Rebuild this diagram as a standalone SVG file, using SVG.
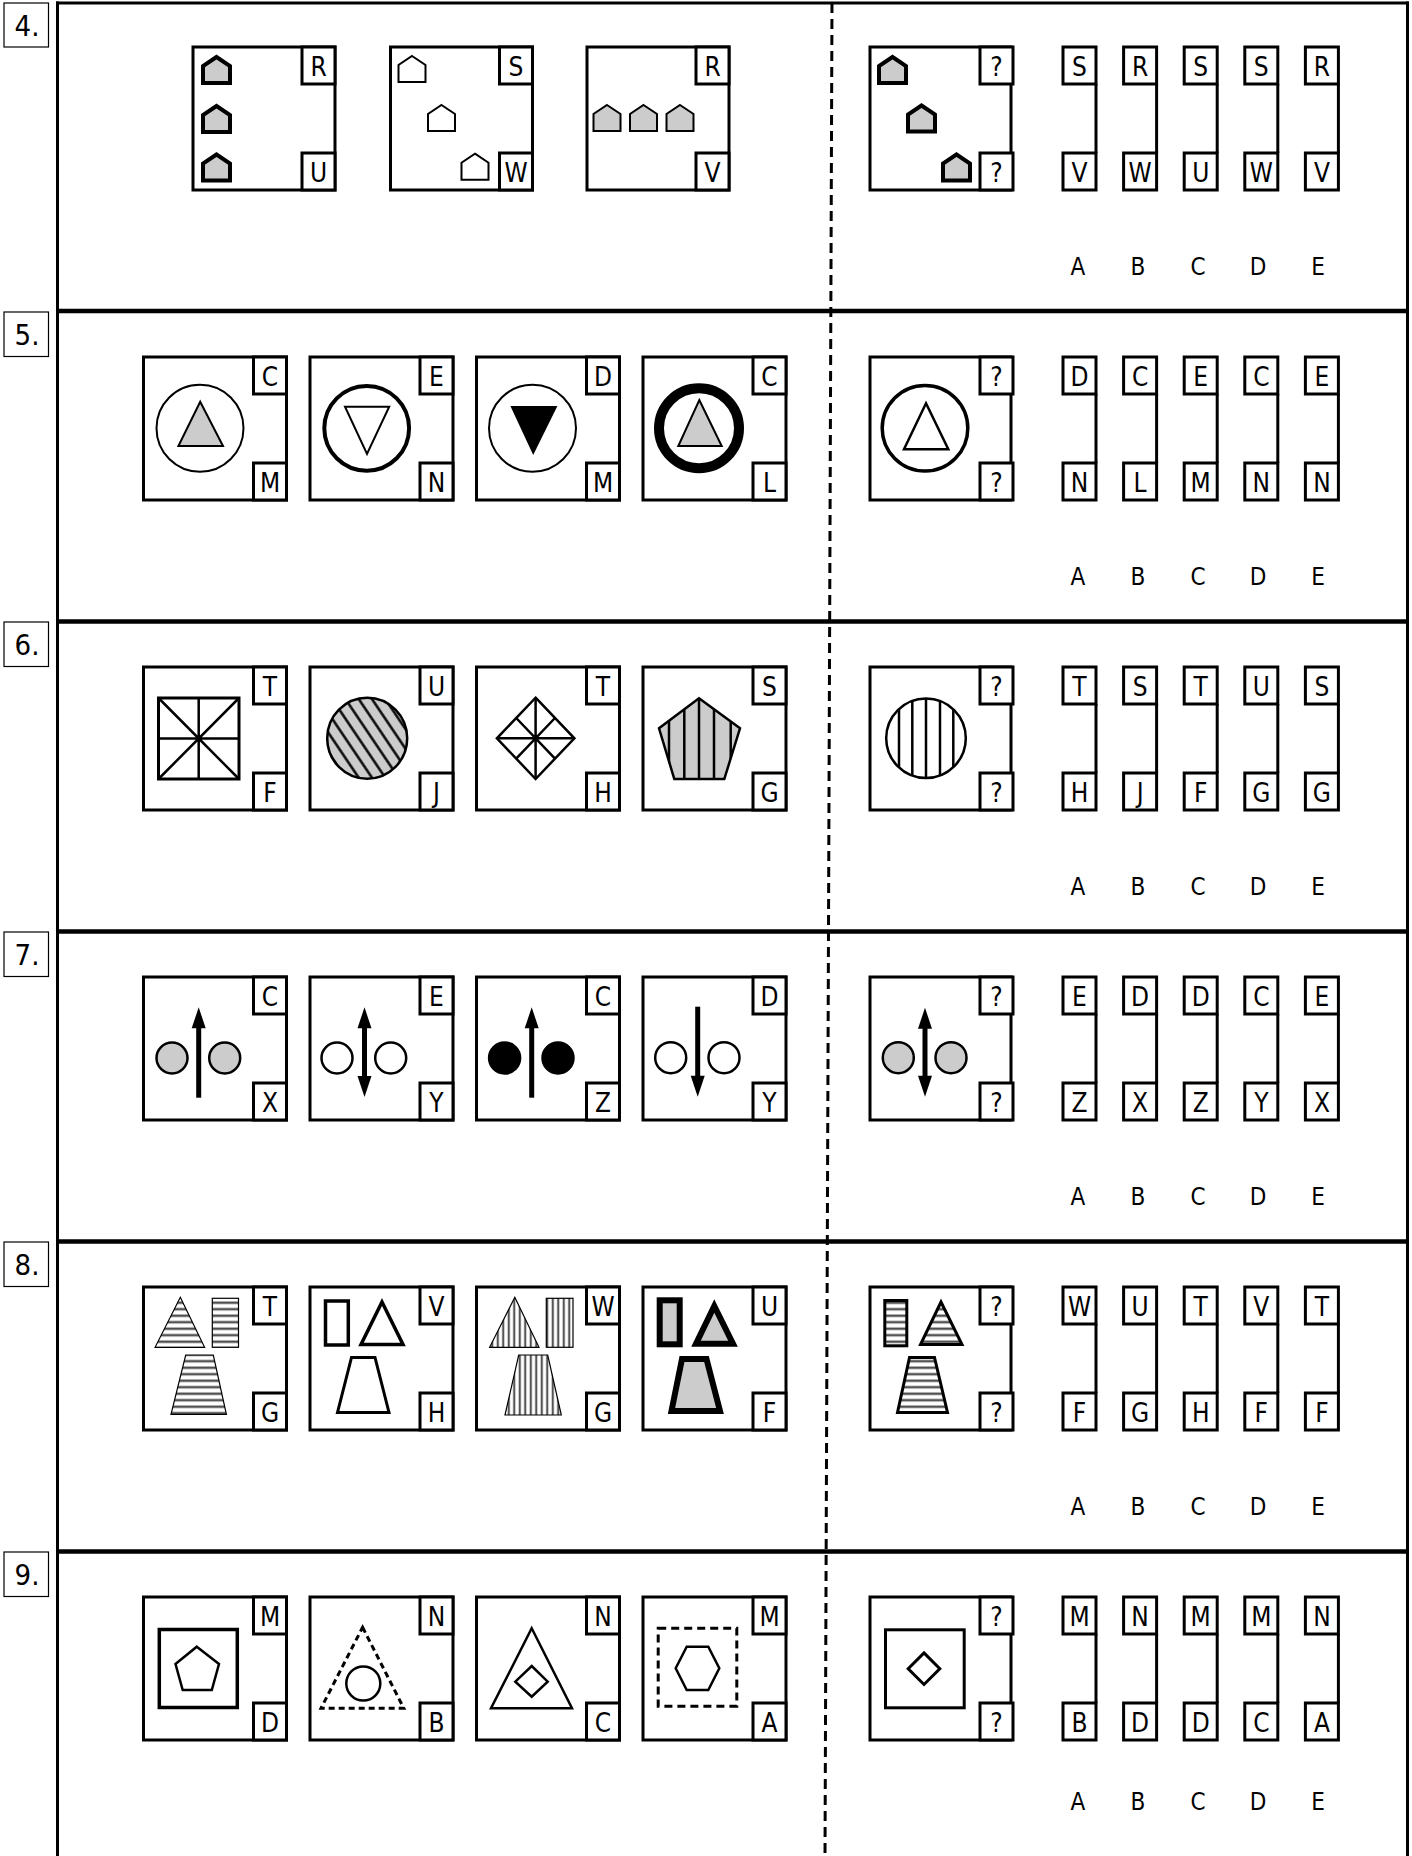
<svg xmlns="http://www.w3.org/2000/svg" xmlns:xlink="http://www.w3.org/1999/xlink" width="1412" height="1856" viewBox="0 0 1412 1856">
<style>
.box{fill:#fff;stroke:#000;stroke-width:3}
.lb{fill:#fff;stroke:#000;stroke-width:3}
.br{fill:none;stroke:#000;stroke-width:3}
.t{font-family:"DejaVu Sans Condensed","DejaVu Sans",sans-serif;font-size:26px;text-anchor:middle;fill:#000}
.opt{font-family:"DejaVu Sans Condensed","DejaVu Sans",sans-serif;font-size:24px;text-anchor:middle;fill:#000}
.num{font-family:"DejaVu Sans Condensed","DejaVu Sans",sans-serif;font-size:29px;text-anchor:middle;fill:#000}
.nbox{fill:#fff;stroke:#000;stroke-width:1.2}
.div{stroke:#000;stroke-width:4.5}
.edge{stroke:#000;stroke-width:3}
.s2{fill:none;stroke:#000;stroke-width:2}
.s25{fill:none;stroke:#000;stroke-width:2.5}
.g{fill:#cccccc}
.w{fill:#fff}
.k{fill:#000}
.hT{stroke:#000;stroke-width:4;fill:#cccccc;stroke-linejoin:miter}
.hW{stroke:#000;stroke-width:2;fill:#fff}
.hG{stroke:#000;stroke-width:2;fill:#cccccc}
</style>
<defs>
<path id="house" d="M13.5,0 L27,9 L27,26 L0,26 L0,9 Z"/>
<path id="ah" d="M0,0 L7,21 L-7,21 Z"/>
<pattern id="hs" patternUnits="userSpaceOnUse" width="10" height="6.5">
<rect width="10" height="6.5" fill="#fff"/>
<rect y="1.2" width="10" height="3" fill="#a0a0a0"/>
<rect y="2.3" width="10" height="0.9" fill="#000"/>
</pattern>
<pattern id="vs" patternUnits="userSpaceOnUse" width="5.5" height="10">
<rect width="5.5" height="10" fill="#fff"/>
<rect x="1.5" width="2.5" height="10" fill="#a8a8a8"/>
<rect x="2.3" width="0.9" height="10" fill="#000"/>
</pattern>
<pattern id="dg" patternUnits="userSpaceOnUse" width="11" height="11" patternTransform="rotate(-34)">
<rect width="11" height="11" fill="#cccccc"/>
<rect x="4.3" width="2.4" height="11" fill="#000"/>
</pattern>
<clipPath id="cpPent"><polygon points="699,698.3 740,728.3 724.3,779 674.3,779 659,728.3"/></clipPath>
<clipPath id="cpCirc"><circle cx="926" cy="738.3" r="39.8"/></clipPath>
</defs>

<g id="frame">
<line class="edge" x1="57.5" y1="1.5" x2="57.5" y2="1856"/>
<line class="edge" x1="1407.5" y1="1.5" x2="1407.5" y2="1856"/>
<line class="edge" x1="56" y1="3" x2="1409" y2="3"/>
<line class="div" x1="56" y1="311" x2="1409" y2="311"/>
<line class="div" x1="56" y1="621.5" x2="1409" y2="621.5"/>
<line class="div" x1="56" y1="931.5" x2="1409" y2="931.5"/>
<line class="div" x1="56" y1="1241.5" x2="1409" y2="1241.5"/>
<line class="div" x1="56" y1="1551.5" x2="1409" y2="1551.5"/>
</g>
<g id="connectors">
<line x1="832" y1="3" x2="825" y2="1856" stroke="#000" stroke-width="3" stroke-dasharray="10 6"/>
</g>

<!-- ===== Section 4 ===== -->
<g id="num4"><rect class="nbox" x="4" y="3" width="44.5" height="44"/><text class="num" x="27" y="36">4.</text></g>
<g id="s4b1">
<rect class="box" x="193" y="47" width="142" height="143"/>
<rect class="lb" x="302" y="47" width="33" height="37"/><text class="t" x="318.5" y="75.5">R</text>
<rect class="lb" x="302" y="153" width="33" height="37"/><text class="t" x="318.5" y="181.5">U</text>
<use href="#house" class="hT" x="203" y="57"/>
<use href="#house" class="hT" x="203" y="106"/>
<use href="#house" class="hT" x="203" y="154.5"/>
</g>
<g id="s4b2">
<rect class="box" x="390.5" y="47" width="142" height="143"/>
<rect class="lb" x="499.5" y="47" width="33" height="37"/><text class="t" x="516" y="75.5">S</text>
<rect class="lb" x="499.5" y="153" width="33" height="37"/><text class="t" x="516" y="181.5">W</text>
<use href="#house" class="hW" x="398.5" y="56"/>
<use href="#house" class="hW" x="428" y="105"/>
<use href="#house" class="hW" x="461.5" y="153.7"/>
</g>
<g id="s4b3">
<rect class="box" x="587" y="47" width="142" height="143"/>
<rect class="lb" x="696" y="47" width="33" height="37"/><text class="t" x="712.5" y="75.5">R</text>
<rect class="lb" x="696" y="153" width="33" height="37"/><text class="t" x="712.5" y="181.5">V</text>
<use href="#house" class="hG" x="593.5" y="105"/>
<use href="#house" class="hG" x="630" y="105"/>
<use href="#house" class="hG" x="666.5" y="105"/>
</g>
<g id="s4q">
<rect class="box" x="870" y="47" width="141" height="143"/>
<rect class="lb" x="980" y="47" width="33" height="37"/><text class="t" x="996.5" y="75.5">?</text>
<rect class="lb" x="980" y="153" width="33" height="37"/><text class="t" x="996.5" y="181.5">?</text>
<use href="#house" class="hT" x="879" y="57"/>
<use href="#house" class="hT" x="908" y="105.5"/>
<use href="#house" class="hT" x="943" y="154.5"/>
</g>
<g id="s4opts">
<rect class="lb" x="1063" y="47" width="33" height="37"/><text class="t" x="1079.5" y="75.5">S</text><line class="br" x1="1096" y1="84" x2="1096" y2="153"/><rect class="lb" x="1063" y="153" width="33" height="37"/><text class="t" x="1079.5" y="181.5">V</text>
<rect class="lb" x="1123.6" y="47" width="33" height="37"/><text class="t" x="1140.1" y="75.5">R</text><line class="br" x1="1156.6" y1="84" x2="1156.6" y2="153"/><rect class="lb" x="1123.6" y="153" width="33" height="37"/><text class="t" x="1140.1" y="181.5">W</text>
<rect class="lb" x="1184.2" y="47" width="33" height="37"/><text class="t" x="1200.7" y="75.5">S</text><line class="br" x1="1217.2" y1="84" x2="1217.2" y2="153"/><rect class="lb" x="1184.2" y="153" width="33" height="37"/><text class="t" x="1200.7" y="181.5">U</text>
<rect class="lb" x="1244.8" y="47" width="33" height="37"/><text class="t" x="1261.3" y="75.5">S</text><line class="br" x1="1277.8" y1="84" x2="1277.8" y2="153"/><rect class="lb" x="1244.8" y="153" width="33" height="37"/><text class="t" x="1261.3" y="181.5">W</text>
<rect class="lb" x="1305.4" y="47" width="33" height="37"/><text class="t" x="1321.9" y="75.5">R</text><line class="br" x1="1338.4" y1="84" x2="1338.4" y2="153"/><rect class="lb" x="1305.4" y="153" width="33" height="37"/><text class="t" x="1321.9" y="181.5">V</text>
<text class="opt" x="1078" y="275">A</text><text class="opt" x="1138" y="275">B</text><text class="opt" x="1198" y="275">C</text><text class="opt" x="1258" y="275">D</text><text class="opt" x="1318" y="275">E</text>
</g>

<!-- ===== Section 5 ===== -->
<g id="num5"><rect class="nbox" x="4" y="312" width="44.5" height="44.5"/><text class="num" x="27" y="345">5.</text></g>
<g id="s5b1">
<rect class="box" x="143.5" y="357" width="143" height="143"/>
<rect class="lb" x="253.5" y="357" width="33" height="37"/><text class="t" x="270" y="385.5">C</text>
<rect class="lb" x="253.5" y="463" width="33" height="37"/><text class="t" x="270" y="491.5">M</text>
<circle cx="200" cy="428.3" r="43.5" class="s2"/>
<polygon points="200.2,401.7 223,446 178.4,446" class="g" stroke="#000" stroke-width="2"/>
</g>
<g id="s5b2">
<rect class="box" x="310" y="357" width="143" height="143"/>
<rect class="lb" x="420" y="357" width="33" height="37"/><text class="t" x="436.5" y="385.5">E</text>
<rect class="lb" x="420" y="463" width="33" height="37"/><text class="t" x="436.5" y="491.5">N</text>
<circle cx="366.7" cy="428.3" r="42.4" fill="none" stroke="#000" stroke-width="4"/>
<polygon points="345,406.7 389.2,406.7 367,454" class="w" stroke="#000" stroke-width="2"/>
</g>
<g id="s5b3">
<rect class="box" x="476.5" y="357" width="143" height="143"/>
<rect class="lb" x="586.5" y="357" width="33" height="37"/><text class="t" x="603" y="385.5">D</text>
<rect class="lb" x="586.5" y="463" width="33" height="37"/><text class="t" x="603" y="491.5">M</text>
<circle cx="532.5" cy="428.3" r="43.5" class="s2"/>
<polygon points="510.4,406 557.4,406 533.2,455" class="k"/>
</g>
<g id="s5b4">
<rect class="box" x="643" y="357" width="143" height="143"/>
<rect class="lb" x="753" y="357" width="33" height="37"/><text class="t" x="769.5" y="385.5">C</text>
<rect class="lb" x="753" y="463" width="33" height="37"/><text class="t" x="769.5" y="491.5">L</text>
<circle cx="699" cy="428.3" r="40" fill="none" stroke="#000" stroke-width="10"/>
<polygon points="699.3,400 721.7,446 678.3,446" class="g" stroke="#000" stroke-width="2"/>
</g>
<g id="s5q">
<rect class="box" x="870" y="357" width="141" height="143"/>
<rect class="lb" x="980" y="357" width="33" height="37"/><text class="t" x="996.5" y="385.5">?</text>
<rect class="lb" x="980" y="463" width="33" height="37"/><text class="t" x="996.5" y="491.5">?</text>
<circle cx="925" cy="428.3" r="42.8" fill="none" stroke="#000" stroke-width="3.5"/>
<polygon points="926,403.3 948.3,449.3 904,449.3" class="w" stroke="#000" stroke-width="2.5"/>
</g>
<g id="s5opts">
<rect class="lb" x="1063" y="357" width="33" height="37"/><text class="t" x="1079.5" y="385.5">D</text><line class="br" x1="1096" y1="394" x2="1096" y2="463"/><rect class="lb" x="1063" y="463" width="33" height="37"/><text class="t" x="1079.5" y="491.5">N</text>
<rect class="lb" x="1123.6" y="357" width="33" height="37"/><text class="t" x="1140.1" y="385.5">C</text><line class="br" x1="1156.6" y1="394" x2="1156.6" y2="463"/><rect class="lb" x="1123.6" y="463" width="33" height="37"/><text class="t" x="1140.1" y="491.5">L</text>
<rect class="lb" x="1184.2" y="357" width="33" height="37"/><text class="t" x="1200.7" y="385.5">E</text><line class="br" x1="1217.2" y1="394" x2="1217.2" y2="463"/><rect class="lb" x="1184.2" y="463" width="33" height="37"/><text class="t" x="1200.7" y="491.5">M</text>
<rect class="lb" x="1244.8" y="357" width="33" height="37"/><text class="t" x="1261.3" y="385.5">C</text><line class="br" x1="1277.8" y1="394" x2="1277.8" y2="463"/><rect class="lb" x="1244.8" y="463" width="33" height="37"/><text class="t" x="1261.3" y="491.5">N</text>
<rect class="lb" x="1305.4" y="357" width="33" height="37"/><text class="t" x="1321.9" y="385.5">E</text><line class="br" x1="1338.4" y1="394" x2="1338.4" y2="463"/><rect class="lb" x="1305.4" y="463" width="33" height="37"/><text class="t" x="1321.9" y="491.5">N</text>
<text class="opt" x="1078" y="585">A</text><text class="opt" x="1138" y="585">B</text><text class="opt" x="1198" y="585">C</text><text class="opt" x="1258" y="585">D</text><text class="opt" x="1318" y="585">E</text>
</g>

<!-- ===== Section 6 ===== -->
<g id="num6"><rect class="nbox" x="4" y="622" width="44.5" height="44.5"/><text class="num" x="27" y="655">6.</text></g>
<g id="s6b1">
<rect class="box" x="143.5" y="667" width="143" height="143"/>
<rect class="lb" x="253.5" y="667" width="33" height="37"/><text class="t" x="270" y="695.5">T</text>
<rect class="lb" x="253.5" y="773" width="33" height="37"/><text class="t" x="270" y="801.5">F</text>
<rect x="158.5" y="698" width="80.5" height="81" fill="none" stroke="#000" stroke-width="3"/>
<path d="M198.7,698 V779 M158.5,738.5 H239 M158.5,698 L239,779 M239,698 L158.5,779" class="s25"/>
</g>
<g id="s6b2">
<rect class="box" x="310" y="667" width="143" height="143"/>
<rect class="lb" x="420" y="667" width="33" height="37"/><text class="t" x="436.5" y="695.5">U</text>
<rect class="lb" x="420" y="773" width="33" height="37"/><text class="t" x="436.5" y="801.5">J</text>
<ellipse cx="367.2" cy="738.3" rx="40" ry="40.5" fill="url(#dg)" stroke="#000" stroke-width="2.5"/>
</g>
<g id="s6b3">
<rect class="box" x="476.5" y="667" width="143" height="143"/>
<rect class="lb" x="586.5" y="667" width="33" height="37"/><text class="t" x="603" y="695.5">T</text>
<rect class="lb" x="586.5" y="773" width="33" height="37"/><text class="t" x="603" y="801.5">H</text>
<polygon points="535.6,697.7 574.4,738.3 535.6,779 496.9,738.3" class="s25"/>
<path d="M535.6,697.7 V779 M496.9,738.3 H574.4 M516.2,718 L555,758.7 M555,718 L516.2,758.7" class="s25"/>
</g>
<g id="s6b4">
<rect class="box" x="643" y="667" width="143" height="143"/>
<rect class="lb" x="753" y="667" width="33" height="37"/><text class="t" x="769.5" y="695.5">S</text>
<rect class="lb" x="753" y="773" width="33" height="37"/><text class="t" x="769.5" y="801.5">G</text>
<polygon points="699,698.3 740,728.3 724.3,779 674.3,779 659,728.3" class="g"/>
<path d="M669,690 V790 M684.3,690 V790 M699,690 V790 M714,690 V790 M730.7,690 V790" stroke="#000" stroke-width="2.5" clip-path="url(#cpPent)"/>
<polygon points="699,698.3 740,728.3 724.3,779 674.3,779 659,728.3" class="s25"/>
</g>
<g id="s6q">
<rect class="box" x="870" y="667" width="141" height="143"/>
<rect class="lb" x="980" y="667" width="33" height="37"/><text class="t" x="996.5" y="695.5">?</text>
<rect class="lb" x="980" y="773" width="33" height="37"/><text class="t" x="996.5" y="801.5">?</text>
<circle cx="926" cy="738.3" r="39.8" class="w"/>
<path d="M899,690 V790 M912.3,690 V790 M926,690 V790 M940,690 V790 M953.3,690 V790" stroke="#000" stroke-width="2.5" clip-path="url(#cpCirc)"/>
<circle cx="926" cy="738.3" r="39.8" class="s25"/>
</g>
<g id="s6opts">
<rect class="lb" x="1063" y="667" width="33" height="37"/><text class="t" x="1079.5" y="695.5">T</text><line class="br" x1="1096" y1="704" x2="1096" y2="773"/><rect class="lb" x="1063" y="773" width="33" height="37"/><text class="t" x="1079.5" y="801.5">H</text>
<rect class="lb" x="1123.6" y="667" width="33" height="37"/><text class="t" x="1140.1" y="695.5">S</text><line class="br" x1="1156.6" y1="704" x2="1156.6" y2="773"/><rect class="lb" x="1123.6" y="773" width="33" height="37"/><text class="t" x="1140.1" y="801.5">J</text>
<rect class="lb" x="1184.2" y="667" width="33" height="37"/><text class="t" x="1200.7" y="695.5">T</text><line class="br" x1="1217.2" y1="704" x2="1217.2" y2="773"/><rect class="lb" x="1184.2" y="773" width="33" height="37"/><text class="t" x="1200.7" y="801.5">F</text>
<rect class="lb" x="1244.8" y="667" width="33" height="37"/><text class="t" x="1261.3" y="695.5">U</text><line class="br" x1="1277.8" y1="704" x2="1277.8" y2="773"/><rect class="lb" x="1244.8" y="773" width="33" height="37"/><text class="t" x="1261.3" y="801.5">G</text>
<rect class="lb" x="1305.4" y="667" width="33" height="37"/><text class="t" x="1321.9" y="695.5">S</text><line class="br" x1="1338.4" y1="704" x2="1338.4" y2="773"/><rect class="lb" x="1305.4" y="773" width="33" height="37"/><text class="t" x="1321.9" y="801.5">G</text>
<text class="opt" x="1078" y="895">A</text><text class="opt" x="1138" y="895">B</text><text class="opt" x="1198" y="895">C</text><text class="opt" x="1258" y="895">D</text><text class="opt" x="1318" y="895">E</text>
</g>

<!-- ===== Section 7 ===== -->
<g id="num7"><rect class="nbox" x="4" y="932" width="44.5" height="44.5"/><text class="num" x="27" y="965">7.</text></g>
<g id="s7b1">
<rect class="box" x="143.5" y="977" width="143" height="143"/>
<rect class="lb" x="253.5" y="977" width="33" height="37"/><text class="t" x="270" y="1005.5">C</text>
<rect class="lb" x="253.5" y="1083" width="33" height="37"/><text class="t" x="270" y="1111.5">X</text>
<circle cx="172" cy="1058" r="15.5" class="g" stroke="#000" stroke-width="2.5"/>
<circle cx="224.7" cy="1058" r="15.5" class="g" stroke="#000" stroke-width="2.5"/>
<line x1="198.7" y1="1097.7" x2="198.7" y2="1024" stroke="#000" stroke-width="5"/>
<use href="#ah" x="198.7" y="1007.3"/>
</g>
<g id="s7b2">
<rect class="box" x="310" y="977" width="143" height="143"/>
<rect class="lb" x="420" y="977" width="33" height="37"/><text class="t" x="436.5" y="1005.5">E</text>
<rect class="lb" x="420" y="1083" width="33" height="37"/><text class="t" x="436.5" y="1111.5">Y</text>
<circle cx="337" cy="1058" r="15.5" class="w" stroke="#000" stroke-width="2.5"/>
<circle cx="390.7" cy="1058" r="15.5" class="w" stroke="#000" stroke-width="2.5"/>
<line x1="364.5" y1="1024" x2="364.5" y2="1080" stroke="#000" stroke-width="5"/>
<use href="#ah" x="364.5" y="1007.3"/>
<use href="#ah" transform="translate(364.5,1097) rotate(180)"/>
</g>
<g id="s7b3">
<rect class="box" x="476.5" y="977" width="143" height="143"/>
<rect class="lb" x="586.5" y="977" width="33" height="37"/><text class="t" x="603" y="1005.5">C</text>
<rect class="lb" x="586.5" y="1083" width="33" height="37"/><text class="t" x="603" y="1111.5">Z</text>
<circle cx="504.6" cy="1058" r="15.5" class="k" stroke="#000" stroke-width="2.5"/>
<circle cx="558" cy="1058" r="15.5" class="k" stroke="#000" stroke-width="2.5"/>
<line x1="531.7" y1="1097.7" x2="531.7" y2="1024" stroke="#000" stroke-width="5"/>
<use href="#ah" x="531.7" y="1007.3"/>
</g>
<g id="s7b4">
<rect class="box" x="643" y="977" width="143" height="143"/>
<rect class="lb" x="753" y="977" width="33" height="37"/><text class="t" x="769.5" y="1005.5">D</text>
<rect class="lb" x="753" y="1083" width="33" height="37"/><text class="t" x="769.5" y="1111.5">Y</text>
<circle cx="670.7" cy="1057.7" r="15.5" class="w" stroke="#000" stroke-width="2.5"/>
<circle cx="724" cy="1057.7" r="15.5" class="w" stroke="#000" stroke-width="2.5"/>
<line x1="697.7" y1="1006.7" x2="697.7" y2="1080" stroke="#000" stroke-width="5"/>
<use href="#ah" transform="translate(697.7,1096.7) rotate(180)"/>
</g>
<g id="s7q">
<rect class="box" x="870" y="977" width="141" height="143"/>
<rect class="lb" x="980" y="977" width="33" height="37"/><text class="t" x="996.5" y="1005.5">?</text>
<rect class="lb" x="980" y="1083" width="33" height="37"/><text class="t" x="996.5" y="1111.5">?</text>
<circle cx="898.3" cy="1057.7" r="15.5" class="g" stroke="#000" stroke-width="2.5"/>
<circle cx="951" cy="1057.7" r="15.5" class="g" stroke="#000" stroke-width="2.5"/>
<line x1="925" y1="1024" x2="925" y2="1080" stroke="#000" stroke-width="5"/>
<use href="#ah" x="925" y="1007.7"/>
<use href="#ah" transform="translate(925,1096.7) rotate(180)"/>
</g>
<g id="s7opts">
<rect class="lb" x="1063" y="977" width="33" height="37"/><text class="t" x="1079.5" y="1005.5">E</text><line class="br" x1="1096" y1="1014" x2="1096" y2="1083"/><rect class="lb" x="1063" y="1083" width="33" height="37"/><text class="t" x="1079.5" y="1111.5">Z</text>
<rect class="lb" x="1123.6" y="977" width="33" height="37"/><text class="t" x="1140.1" y="1005.5">D</text><line class="br" x1="1156.6" y1="1014" x2="1156.6" y2="1083"/><rect class="lb" x="1123.6" y="1083" width="33" height="37"/><text class="t" x="1140.1" y="1111.5">X</text>
<rect class="lb" x="1184.2" y="977" width="33" height="37"/><text class="t" x="1200.7" y="1005.5">D</text><line class="br" x1="1217.2" y1="1014" x2="1217.2" y2="1083"/><rect class="lb" x="1184.2" y="1083" width="33" height="37"/><text class="t" x="1200.7" y="1111.5">Z</text>
<rect class="lb" x="1244.8" y="977" width="33" height="37"/><text class="t" x="1261.3" y="1005.5">C</text><line class="br" x1="1277.8" y1="1014" x2="1277.8" y2="1083"/><rect class="lb" x="1244.8" y="1083" width="33" height="37"/><text class="t" x="1261.3" y="1111.5">Y</text>
<rect class="lb" x="1305.4" y="977" width="33" height="37"/><text class="t" x="1321.9" y="1005.5">E</text><line class="br" x1="1338.4" y1="1014" x2="1338.4" y2="1083"/><rect class="lb" x="1305.4" y="1083" width="33" height="37"/><text class="t" x="1321.9" y="1111.5">X</text>
<text class="opt" x="1078" y="1205">A</text><text class="opt" x="1138" y="1205">B</text><text class="opt" x="1198" y="1205">C</text><text class="opt" x="1258" y="1205">D</text><text class="opt" x="1318" y="1205">E</text>
</g>

<!-- ===== Section 8 ===== -->
<g id="num8"><rect class="nbox" x="4" y="1242" width="44.5" height="44.5"/><text class="num" x="27" y="1275">8.</text></g>
<g id="s8b1">
<rect class="box" x="143.5" y="1287" width="143" height="143"/>
<rect class="lb" x="253.5" y="1287" width="33" height="37"/><text class="t" x="270" y="1315.5">T</text>
<rect class="lb" x="253.5" y="1393" width="33" height="37"/><text class="t" x="270" y="1421.5">G</text>
<polygon points="180.3,1297.3 204.6,1347.3 155.1,1347.3" fill="url(#hs)" stroke="#000" stroke-width="1.2"/>
<rect x="212.3" y="1298.3" width="26.2" height="49" fill="url(#hs)" stroke="#000" stroke-width="1.2"/>
<polygon points="185.7,1355 213.3,1355 226.4,1414.3 171,1414.3" fill="url(#hs)" stroke="#000" stroke-width="1.2"/>
</g>
<g id="s8b2">
<rect class="box" x="310" y="1287" width="143" height="143"/>
<rect class="lb" x="420" y="1287" width="33" height="37"/><text class="t" x="436.5" y="1315.5">V</text>
<rect class="lb" x="420" y="1393" width="33" height="37"/><text class="t" x="436.5" y="1421.5">H</text>
<rect x="325.5" y="1301" width="22.8" height="44" fill="#fff" stroke="#000" stroke-width="3.5"/>
<polygon points="382,1302 403,1344.5 361,1344.5" fill="#fff" stroke="#000" stroke-width="3.5"/>
<polygon points="351.5,1357.5 375,1357.5 389,1412.5 337.5,1412.5" fill="#fff" stroke="#000" stroke-width="3"/>
</g>
<g id="s8b3">
<rect class="box" x="476.5" y="1287" width="143" height="143"/>
<rect class="lb" x="586.5" y="1287" width="33" height="37"/><text class="t" x="603" y="1315.5">W</text>
<rect class="lb" x="586.5" y="1393" width="33" height="37"/><text class="t" x="603" y="1421.5">G</text>
<polygon points="514.8,1297.3 539,1347.3 489.6,1347.3" fill="url(#vs)" stroke="#000" stroke-width="1.2"/>
<rect x="546.3" y="1298.3" width="26.7" height="49" fill="url(#vs)" stroke="#000" stroke-width="1.2"/>
<polygon points="518.7,1355 547.7,1355 561.3,1415 505,1415" fill="url(#vs)" stroke="#000" stroke-width="1.2"/>
</g>
<g id="s8b4">
<rect class="box" x="643" y="1287" width="143" height="143"/>
<rect class="lb" x="753" y="1287" width="33" height="37"/><text class="t" x="769.5" y="1315.5">U</text>
<rect class="lb" x="753" y="1393" width="33" height="37"/><text class="t" x="769.5" y="1421.5">F</text>
<rect x="659.7" y="1300.3" width="20" height="44" class="g" stroke="#000" stroke-width="6"/>
<polygon points="714.3,1306 733,1343.7 696,1343.7" class="g" stroke="#000" stroke-width="6"/>
<polygon points="682,1359 706.5,1359 720,1411 671.5,1411" class="g" stroke="#000" stroke-width="6"/>
</g>
<g id="s8q">
<rect class="box" x="870" y="1287" width="141" height="143"/>
<rect class="lb" x="980" y="1287" width="33" height="37"/><text class="t" x="996.5" y="1315.5">?</text>
<rect class="lb" x="980" y="1393" width="33" height="37"/><text class="t" x="996.5" y="1421.5">?</text>
<rect x="884.8" y="1300.5" width="22" height="45.3" fill="url(#hs)" stroke="#000" stroke-width="3"/>
<polygon points="941,1302 962,1344.5 920.5,1344.5" fill="url(#hs)" stroke="#000" stroke-width="3"/>
<polygon points="909.5,1357.5 934.5,1357.5 947.5,1412.5 897.5,1412.5" fill="url(#hs)" stroke="#000" stroke-width="3"/>
</g>
<g id="s8opts">
<rect class="lb" x="1063" y="1287" width="33" height="37"/><text class="t" x="1079.5" y="1315.5">W</text><line class="br" x1="1096" y1="1324" x2="1096" y2="1393"/><rect class="lb" x="1063" y="1393" width="33" height="37"/><text class="t" x="1079.5" y="1421.5">F</text>
<rect class="lb" x="1123.6" y="1287" width="33" height="37"/><text class="t" x="1140.1" y="1315.5">U</text><line class="br" x1="1156.6" y1="1324" x2="1156.6" y2="1393"/><rect class="lb" x="1123.6" y="1393" width="33" height="37"/><text class="t" x="1140.1" y="1421.5">G</text>
<rect class="lb" x="1184.2" y="1287" width="33" height="37"/><text class="t" x="1200.7" y="1315.5">T</text><line class="br" x1="1217.2" y1="1324" x2="1217.2" y2="1393"/><rect class="lb" x="1184.2" y="1393" width="33" height="37"/><text class="t" x="1200.7" y="1421.5">H</text>
<rect class="lb" x="1244.8" y="1287" width="33" height="37"/><text class="t" x="1261.3" y="1315.5">V</text><line class="br" x1="1277.8" y1="1324" x2="1277.8" y2="1393"/><rect class="lb" x="1244.8" y="1393" width="33" height="37"/><text class="t" x="1261.3" y="1421.5">F</text>
<rect class="lb" x="1305.4" y="1287" width="33" height="37"/><text class="t" x="1321.9" y="1315.5">T</text><line class="br" x1="1338.4" y1="1324" x2="1338.4" y2="1393"/><rect class="lb" x="1305.4" y="1393" width="33" height="37"/><text class="t" x="1321.9" y="1421.5">F</text>
<text class="opt" x="1078" y="1515">A</text><text class="opt" x="1138" y="1515">B</text><text class="opt" x="1198" y="1515">C</text><text class="opt" x="1258" y="1515">D</text><text class="opt" x="1318" y="1515">E</text>
</g>

<!-- ===== Section 9 ===== -->
<g id="num9"><rect class="nbox" x="4" y="1552" width="44.5" height="44.5"/><text class="num" x="27" y="1585">9.</text></g>
<g id="s9b1">
<rect class="box" x="143.5" y="1597" width="143" height="143"/>
<rect class="lb" x="253.5" y="1597" width="33" height="37"/><text class="t" x="270" y="1625.5">M</text>
<rect class="lb" x="253.5" y="1703" width="33" height="37"/><text class="t" x="270" y="1731.5">D</text>
<rect x="159.3" y="1629.5" width="78" height="78" fill="none" stroke="#000" stroke-width="3.5"/>
<polygon points="196.8,1646.7 219,1664 211.8,1690 182.7,1690 175.5,1664" class="s25"/>
</g>
<g id="s9b2">
<rect class="box" x="310" y="1597" width="143" height="143"/>
<rect class="lb" x="420" y="1597" width="33" height="37"/><text class="t" x="436.5" y="1625.5">N</text>
<rect class="lb" x="420" y="1703" width="33" height="37"/><text class="t" x="436.5" y="1731.5">B</text>
<polygon points="362.6,1627.3 403.8,1708.3 321,1708.3" fill="none" stroke="#000" stroke-width="3" stroke-dasharray="6 4"/>
<circle cx="363.3" cy="1683.5" r="17" class="s25"/>
</g>
<g id="s9b3">
<rect class="box" x="476.5" y="1597" width="143" height="143"/>
<rect class="lb" x="586.5" y="1597" width="33" height="37"/><text class="t" x="603" y="1625.5">N</text>
<rect class="lb" x="586.5" y="1703" width="33" height="37"/><text class="t" x="603" y="1731.5">C</text>
<polygon points="531.7,1628.3 572,1708.3 491,1708.3" class="s25"/>
<polygon points="531.7,1666 547.7,1681.7 531.7,1696.7 515.3,1681.7" class="s25"/>
</g>
<g id="s9b4">
<rect class="box" x="643" y="1597" width="143" height="143"/>
<rect class="lb" x="753" y="1597" width="33" height="37"/><text class="t" x="769.5" y="1625.5">M</text>
<rect class="lb" x="753" y="1703" width="33" height="37"/><text class="t" x="769.5" y="1731.5">A</text>
<rect x="658.2" y="1628.2" width="78.6" height="78" fill="none" stroke="#000" stroke-width="3" stroke-dasharray="8 5"/>
<polygon points="675.7,1668.3 686.7,1646.7 708.3,1646.7 719.3,1668.3 708.3,1690 686.7,1690" class="s25"/>
</g>
<g id="s9q">
<rect class="box" x="870" y="1597" width="141" height="143"/>
<rect class="lb" x="980" y="1597" width="33" height="37"/><text class="t" x="996.5" y="1625.5">?</text>
<rect class="lb" x="980" y="1703" width="33" height="37"/><text class="t" x="996.5" y="1731.5">?</text>
<rect x="885.5" y="1629.8" width="78.7" height="78" fill="none" stroke="#000" stroke-width="3"/>
<polygon points="924,1652.9 939.8,1668.7 924,1684.5 908.2,1668.7" fill="none" stroke="#000" stroke-width="3"/>
</g>
<g id="s9opts">
<rect class="lb" x="1063" y="1597" width="33" height="37"/><text class="t" x="1079.5" y="1625.5">M</text><line class="br" x1="1096" y1="1634" x2="1096" y2="1703"/><rect class="lb" x="1063" y="1703" width="33" height="37"/><text class="t" x="1079.5" y="1731.5">B</text>
<rect class="lb" x="1123.6" y="1597" width="33" height="37"/><text class="t" x="1140.1" y="1625.5">N</text><line class="br" x1="1156.6" y1="1634" x2="1156.6" y2="1703"/><rect class="lb" x="1123.6" y="1703" width="33" height="37"/><text class="t" x="1140.1" y="1731.5">D</text>
<rect class="lb" x="1184.2" y="1597" width="33" height="37"/><text class="t" x="1200.7" y="1625.5">M</text><line class="br" x1="1217.2" y1="1634" x2="1217.2" y2="1703"/><rect class="lb" x="1184.2" y="1703" width="33" height="37"/><text class="t" x="1200.7" y="1731.5">D</text>
<rect class="lb" x="1244.8" y="1597" width="33" height="37"/><text class="t" x="1261.3" y="1625.5">M</text><line class="br" x1="1277.8" y1="1634" x2="1277.8" y2="1703"/><rect class="lb" x="1244.8" y="1703" width="33" height="37"/><text class="t" x="1261.3" y="1731.5">C</text>
<rect class="lb" x="1305.4" y="1597" width="33" height="37"/><text class="t" x="1321.9" y="1625.5">N</text><line class="br" x1="1338.4" y1="1634" x2="1338.4" y2="1703"/><rect class="lb" x="1305.4" y="1703" width="33" height="37"/><text class="t" x="1321.9" y="1731.5">A</text>
<text class="opt" x="1078" y="1810">A</text><text class="opt" x="1138" y="1810">B</text><text class="opt" x="1198" y="1810">C</text><text class="opt" x="1258" y="1810">D</text><text class="opt" x="1318" y="1810">E</text>
</g>
</svg>
